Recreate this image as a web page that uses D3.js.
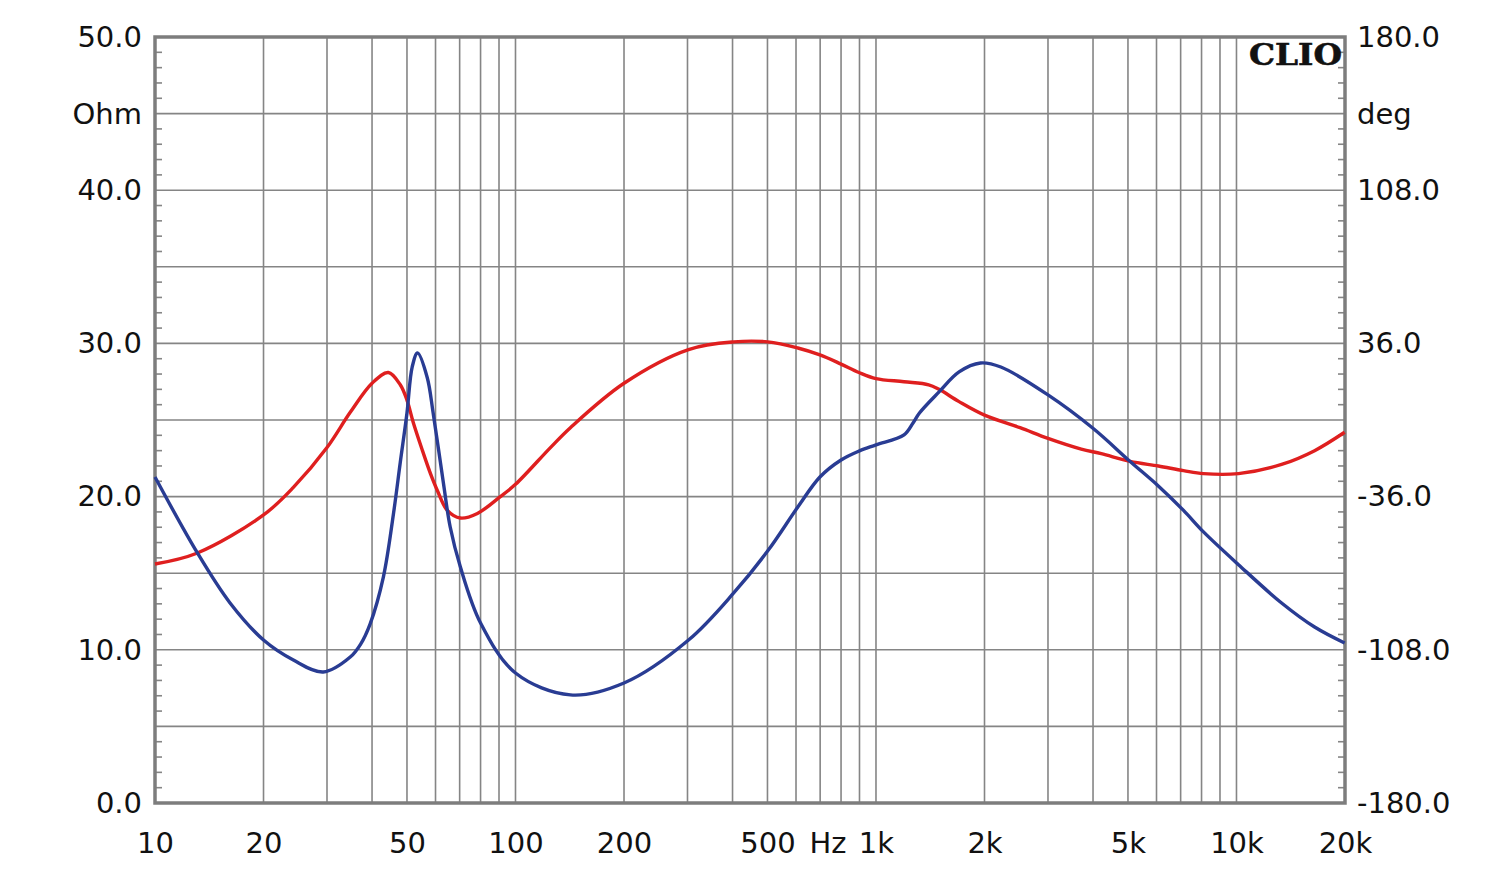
<!DOCTYPE html>
<html>
<head>
<meta charset="utf-8">
<script src="https://cdn.jsdelivr.net/npm/d3@7"></script>
<style>
  html, body { margin: 0; padding: 0; background: #fff; }
  svg { display: block; }
</style>
</head>
<body>
<svg id="chart" width="1500" height="877"></svg>
<script>
// ---- data ----
const xTickValues = [10, 20, 50, 100, 200, 500, 1000, 2000, 5000, 10000, 20000];
const xTickLabels = ["10", "20", "50", "100", "200", "500", "1k", "2k", "5k", "10k", "20k"];
const leftTicks = [0, 10, 20, 30, 40, 50];
const rightTicks = [-180, -108, -36, 36, 108, 180];

const impFreq = [10, 13.06, 20, 24.2, 30, 34.8, 40, 44.4, 47.9, 50, 52.1, 55.2, 58.1, 60.7, 64.7, 70.3, 78.4, 90.8, 100, 125, 142, 200, 302, 403, 501, 607, 699, 800, 897, 1000, 1196, 1400, 1496, 1700, 2008, 2510, 3000, 3710, 4217, 5070, 6070, 7130, 8100, 10130, 13340, 16470, 19950];
const impOhm  = [15.6, 16.3, 18.8, 20.6, 23.2, 25.5, 27.4, 28.1, 27.3, 26.3, 24.8, 23.0, 21.5, 20.4, 19.1, 18.6, 18.9, 20.0, 20.8, 23.2, 24.5, 27.4, 29.6, 30.1, 30.1, 29.7, 29.25, 28.65, 28.1, 27.7, 27.5, 27.3, 27.0, 26.2, 25.3, 24.5, 23.8, 23.1, 22.8, 22.3, 22.0, 21.7, 21.5, 21.5, 22.1, 23.0, 24.2];

const phFreq = [10, 13.06, 16.15, 20, 24.2, 29.3, 34.8, 37.2, 39.5, 43, 45.9, 47.9, 50, 51.7, 53.5, 56.9, 59.1, 63.1, 65.9, 70.3, 80, 100, 142, 200, 302, 403, 501, 607, 699, 800, 897, 1000, 1196, 1267, 1320, 1496, 1700, 1950, 2220, 3000, 4006, 5070, 6070, 7130, 8100, 10130, 13340, 16470, 19950];
const phDeg  = [-26.8, -62, -86, -103.4, -112.8, -118.4, -111.4, -105.3, -95.9, -73.8, -43.7, -20, 3.3, 25, 31.5, 20, 3.3, -29.6, -50.3, -69, -95.4, -118.9, -129.2, -123.6, -103.4, -81.3, -61.5, -40.9, -26.8, -18.8, -14.6, -11.7, -7, -1.4, 3.3, 13.2, 22.6, 26.8, 24.9, 11.8, -4, -19.5, -31, -42.5, -52.6, -68, -86, -97.3, -104.8];

// ---- layout ----
const L = 155, R = 1345, T = 37, B = 803;
const svg = d3.select("#chart");
const x = d3.scaleLog().domain([10, 20000]).range([L, R]);
const yL = d3.scaleLinear().domain([0, 50]).range([B, T]);
const yR = d3.scaleLinear().domain([-180, 180]).range([B, T]);

const gridColor = "#858585";
const font = "'DejaVu Sans', 'Liberation Sans', Arial, sans-serif";
const fsize = 29;
const fmt = d => d3.format(".1f")(d).replace("\u2212", "-");

// vertical grid (log)
const vLines = [];
for (let d = 10; d < 20000; d *= 10) {
  for (let m = 1; m <= 9; m++) {
    const v = d * m;
    if (v > 10 && v < 20000) vLines.push(v);
  }
}
svg.append("g").selectAll("line").data(vLines).join("line")
  .attr("x1", d => x(d)).attr("x2", d => x(d))
  .attr("y1", T).attr("y2", B)
  .attr("stroke", gridColor).attr("stroke-width", 1.6);

// horizontal grid
const hLines = d3.range(5, 50, 5);
svg.append("g").selectAll("line").data(hLines).join("line")
  .attr("x1", L).attr("x2", R)
  .attr("y1", d => yL(d)).attr("y2", d => yL(d))
  .attr("stroke", gridColor).attr("stroke-width", 1.6);

// minor ticks on left/right edges
const minor = d3.range(1, 50).filter(v => v % 5 !== 0);
svg.append("g").selectAll("line").data(minor).join("line")
  .attr("x1", L).attr("x2", L + 7)
  .attr("y1", d => yL(d)).attr("y2", d => yL(d))
  .attr("stroke", gridColor).attr("stroke-width", 1.6);
svg.append("g").selectAll("line").data(minor).join("line")
  .attr("x1", R - 7).attr("x2", R)
  .attr("y1", d => yL(d)).attr("y2", d => yL(d))
  .attr("stroke", gridColor).attr("stroke-width", 1.6);

// frame
svg.append("rect").attr("x", L).attr("y", T).attr("width", R - L).attr("height", B - T)
  .attr("fill", "none").attr("stroke", "#7d7d7d").attr("stroke-width", 3.5);

// curves
const lineImp = d3.line().x(d => x(d[0])).y(d => yL(d[1])).curve(d3.curveCatmullRom.alpha(0.5));
const linePh = d3.line().x(d => x(d[0])).y(d => yR(d[1])).curve(d3.curveCatmullRom.alpha(0.5));

svg.append("path").datum(impFreq.map((f, i) => [f, impOhm[i]]))
  .attr("d", lineImp).attr("fill", "none").attr("stroke", "#df1f1f").attr("stroke-width", 3.4)
  .attr("stroke-linejoin", "round");
svg.append("path").datum(phFreq.map((f, i) => [f, phDeg[i]]))
  .attr("d", linePh).attr("fill", "none").attr("stroke", "#293c93").attr("stroke-width", 3.4)
  .attr("stroke-linejoin", "round");

// axes labels via d3 axes
const axL = svg.append("g").attr("transform", `translate(${L},0)`)
  .call(d3.axisLeft(yL).tickValues(leftTicks).tickFormat(fmt).tickSize(0).tickPadding(13));
const axR = svg.append("g").attr("transform", `translate(${R},0)`)
  .call(d3.axisRight(yR).tickValues(rightTicks).tickFormat(fmt).tickSize(0).tickPadding(12));
const axB = svg.append("g").attr("transform", `translate(0,${B})`)
  .call(d3.axisBottom(x).tickValues(xTickValues).tickFormat((d, i) => xTickLabels[i]).tickSize(0).tickPadding(26));
[axL, axR, axB].forEach(g => {
  g.select(".domain").remove();
  g.selectAll("text").attr("font-family", font).attr("font-size", fsize).attr("fill", "#111");
});
axB.selectAll("text").attr("dy", "0.35em").attr("y", 40);
axR.selectAll("text").attr("x", 12);

// unit labels
svg.append("text").attr("x", L - 13).attr("y", yL(45)).attr("dy", "0.35em")
  .attr("text-anchor", "end").attr("font-family", font).attr("font-size", fsize).attr("fill", "#111").text("Ohm");
svg.append("text").attr("x", R + 12).attr("y", yL(45)).attr("dy", "0.35em")
  .attr("text-anchor", "start").attr("font-family", font).attr("font-size", fsize).attr("fill", "#111").text("deg");
svg.append("text").attr("x", 828).attr("y", B + 40).attr("dy", "0.35em")
  .attr("text-anchor", "middle").attr("font-family", font).attr("font-size", fsize).attr("fill", "#111").text("Hz");

// CLIO logo
svg.append("text").attr("x", 1249).attr("y", 65)
  .attr("font-family", "'DejaVu Serif', 'Liberation Serif', serif").attr("font-weight", "bold")
  .attr("font-size", 29).attr("textLength", 93).attr("lengthAdjust", "spacingAndGlyphs")
  .attr("fill", "#111").attr("stroke", "#111").attr("stroke-width", 0.6).text("CLIO");
</script>
</body>
</html>
